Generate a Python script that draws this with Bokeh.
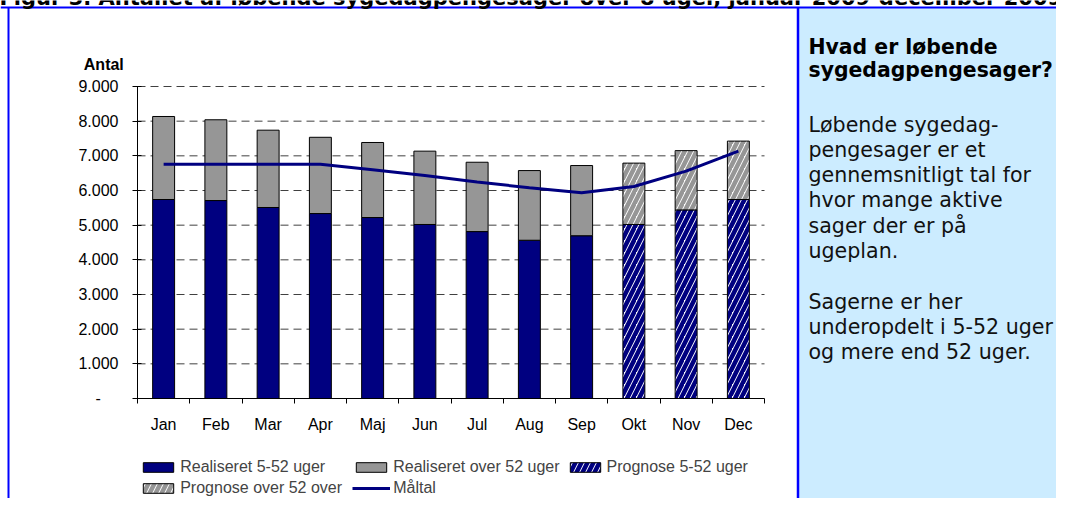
from bokeh.plotting import figure
from bokeh.models import Range1d, LinearAxis, FixedTicker, Label, Legend, LegendItem
from bokeh.embed import file_html
from bokeh.resources import INLINE

# ---------------- data ----------------
months = ["Jan", "Feb", "Mar", "Apr", "Maj", "Jun", "Jul", "Aug", "Sep", "Okt", "Nov", "Dec"]
real_5_52 = [5740, 5710, 5510, 5335, 5220, 5020, 4815, 4565, 4695]          # Jan-Sep
real_over_52 = [2395, 2330, 2230, 2200, 2165, 2115, 2000, 2010, 2025]       # Jan-Sep
prog_5_52 = [5020, 5440, 5740]                                              # Okt-Dec
prog_over_52 = [1770, 1710, 1685]                                           # Okt-Dec
maaltal = [6760, 6760, 6760, 6760, 6600, 6430, 6245, 6080, 5935, 6115, 6560, 7135]
y_ticks = [0, 1000, 2000, 3000, 4000, 5000, 6000, 7000, 8000, 9000]
y_tick_labels = ["-\u00a0\u00a0\u00a0\u00a0", "1.000", "2.000", "3.000", "4.000", "5.000",
                 "6.000", "7.000", "8.000", "9.000"]
legend_labels = ["Realiseret 5-52 uger", "Realiseret over 52 uger", "Prognose 5-52 uger",
                 "Prognose over 52 over", "Måltal"]
doc_title = "Figur 3. Antallet af løbende sygedagpengesager over 8 uger, januar 2009-december 2009."
heading = ["Hvad er løbende", "sygedagpengesager?"]
body = ["Løbende sygedag-", "pengesager er et", "gennemsnitligt tal for", "hvor mange aktive",
        "sager der er på", "ugeplan.", "", "Sagerne er her", "underopdelt i 5-52 uger",
        "og mere end 52 uger."]

# ---------------- layout (pixels, canvas coordinates) ----------------
W, H = 1056, 498
AX_L, AX_R = 137, 764
AX_B, AX_T = 398, 86
n = len(months)
ymax = y_ticks[-1]
sx = (AX_R - AX_L) / n
sy = (AX_B - AX_T) / ymax


def X(px):  # canvas px -> data x
    return (px - AX_L) / sx


def Y(py):  # canvas py -> data y
    return (AX_B - py) / sy


def TY(baseline_px, size):  # label anchor for a wanted baseline (empirical offset)
    return Y(baseline_px - 0.36 * size)


p = figure(width=W, height=H, x_range=Range1d(X(0), X(W)), y_range=Range1d(Y(H), Y(0)),
           x_axis_type=None, y_axis_type=None, output_backend="svg", toolbar_location=None,
           min_border=0, outline_line_color=None, background_fill_color="white",
           border_fill_color="white")

NAVY = "#000080"
GRAY = "#969696"
FONT = "Liberation Sans"

# right info panel + blue frame
p.quad(left=[X(797.5)], right=[X(1100)], top=[Y(7)], bottom=[Y(560)],
       fill_color="#CCECFF", line_color=None)
p.segment(x0=[X(797.5)], x1=[X(797.5)], y0=[Y(7)], y1=[Y(560)], line_color="#0000FF", line_width=2.5)
p.segment(x0=[X(0)], x1=[X(1100)], y0=[Y(7)], y1=[Y(7)], line_color="#0000FF", line_width=2)
p.segment(x0=[X(8)], x1=[X(8)], y0=[Y(7)], y1=[Y(560)], line_color="#0000FF", line_width=2)

# gridlines
gy = y_ticks[1:]
p.segment(x0=[0] * len(gy), x1=[n] * len(gy), y0=gy, y1=gy,
          line_color="#404040", line_width=1, line_dash="8 5")

xs = [i + 0.5 for i in range(n)]
nr = len(real_5_52)
real_x = xs[:nr]
prog_x = xs[nr:]
real_tot = [a + b for a, b in zip(real_5_52, real_over_52)]
prog_tot = [a + b for a, b in zip(prog_5_52, prog_over_52)]
BW = 0.42

r1 = p.vbar(x=real_x, width=BW, bottom=0, top=real_5_52, fill_color=NAVY,
            line_color="black", line_width=1)
r2 = p.vbar(x=real_x, width=BW, bottom=real_5_52, top=real_tot, fill_color=GRAY,
            line_color="black", line_width=1)
r3 = p.vbar(x=prog_x, width=BW, bottom=0, top=prog_5_52, fill_color="white",
            hatch_pattern="/", hatch_color=NAVY, hatch_weight=4.5, hatch_scale=12,
            line_color="black", line_width=1)
r4 = p.vbar(x=prog_x, width=BW, bottom=prog_5_52, top=prog_tot, fill_color="white",
            hatch_pattern="/", hatch_color=GRAY, hatch_weight=4.5, hatch_scale=12,
            line_color="black", line_width=1)
r5 = p.line(x=xs, y=maaltal, line_color=NAVY, line_width=3)

# axes
yaxis = LinearAxis(fixed_location=0, bounds=(0, ymax),
                   ticker=FixedTicker(ticks=y_ticks, minor_ticks=[]),
                   major_label_overrides={t: l for t, l in zip(y_ticks, y_tick_labels)},
                   major_tick_in=4, major_tick_out=5, minor_tick_in=0, minor_tick_out=0,
                   major_label_standoff=14, major_label_text_font=FONT,
                   major_label_text_font_size="16px", major_label_text_color="black",
                   axis_line_color="black", major_tick_line_color="black")
p.add_layout(yaxis, "left")

xaxis = LinearAxis(fixed_location=0, bounds=(0, n),
                   ticker=FixedTicker(ticks=xs, minor_ticks=list(range(n + 1))),
                   major_label_overrides={x: m for x, m in zip(xs, months)},
                   major_tick_in=0, major_tick_out=0, minor_tick_in=0, minor_tick_out=5,
                   major_label_standoff=12, major_label_text_font=FONT,
                   major_label_text_font_size="16px", major_label_text_color="black",
                   axis_line_color="black", minor_tick_line_color="black")
p.add_layout(xaxis, "below")

p.add_layout(Label(x=X(103.3), y=TY(70, 16), text="Antal", text_align="center",
                   text_baseline="alphabetic", text_font=FONT, text_font_size="16px",
                   text_font_style="bold", text_color="black"))

# document title, mostly cut off at the top edge as in the reference
p.add_layout(Label(x=X(-1), y=TY(5, 21), text=doc_title, text_align="left",
                   text_baseline="alphabetic", text_font="DejaVu Sans", text_font_size="21px",
                   text_font_style="bold", text_color="black"))

# legends (two rows); location = bottom-left corner, from frame bottom
leg_common = dict(orientation="horizontal", padding=0, margin=0, spacing=6,
                  glyph_width=38, glyph_height=12, label_standoff=3, label_width=166,
                  label_text_font=FONT, label_text_font_size="16px",
                  border_line_color=None, background_fill_alpha=0)
leg1 = Legend(items=[LegendItem(label=legend_labels[0], renderers=[r1]),
                     LegendItem(label=legend_labels[1], renderers=[r2]),
                     LegendItem(label=legend_labels[2], renderers=[r3])],
              location=(139.2, H - 476), **leg_common)
leg2 = Legend(items=[LegendItem(label=legend_labels[3], renderers=[r4]),
                     LegendItem(label=legend_labels[4], renderers=[r5])],
              location=(139.2, H - 497), **leg_common)
p.add_layout(leg1, "center")
p.add_layout(leg2, "center")

# info panel text
for i, t in enumerate(heading):
    p.add_layout(Label(x=X(808), y=TY(54.3 + 22.4 * i, 20.4), text=t, text_align="left",
                       text_baseline="alphabetic", text_font="DejaVu Sans",
                       text_font_size="20.4px", text_font_style="bold", text_color="black"))
for i, t in enumerate(body):
    if t:
        p.add_layout(Label(x=X(808), y=TY(131.5 + 25.3 * i, 20.6), text=t, text_align="left",
                           text_baseline="alphabetic", text_font="DejaVu Sans",
                           text_font_size="20.6px", text_color="#111111"))

open("out.html", "w").write(file_html(p, INLINE))
